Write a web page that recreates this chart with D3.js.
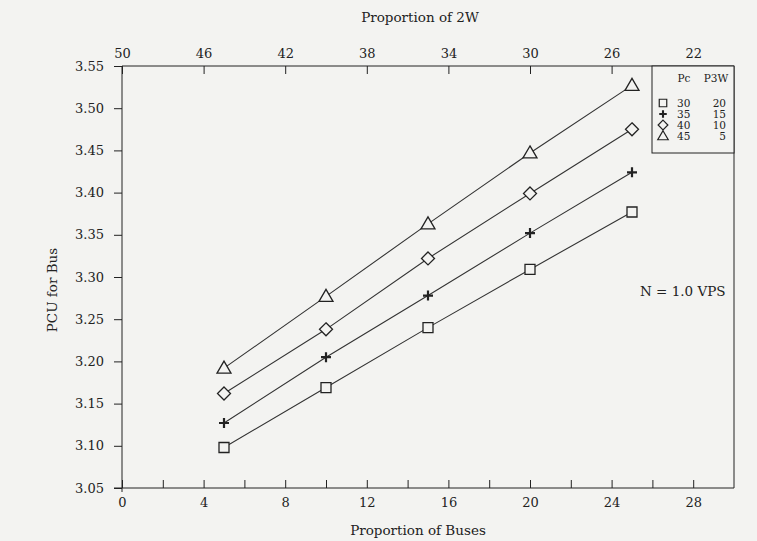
<!DOCTYPE html>
<html>
<head>
<meta charset="utf-8">
<script src="https://cdn.jsdelivr.net/npm/d3@7"></script>
<style>
body { margin: 0; background: #f3f3f1; }
svg { font-family: "DejaVu Serif", serif; }
.axis path, .axis line { stroke: #222; }
.axis text { font-size: 13px; fill: #222; font-family: "DejaVu Serif", serif; }
</style>
</head>
<body>
<svg width="757" height="541"></svg>
<script>
"use strict"

// proportion of buses (x) and PCU values
const busShare = [5, 10, 15, 20, 25]
const pcu30 = [3.098, 3.169, 3.240, 3.309, 3.377]
const pcu35 = [3.127, 3.205, 3.278, 3.352, 3.424]
const pcu40 = [3.162, 3.238, 3.322, 3.399, 3.475]
const pcu45 = [3.192, 3.277, 3.363, 3.447, 3.527]

const legendPc = [30, 35, 40, 45]
const legendP3W = [20, 15, 10, 5]
const markers = ["square", "plus", "diamond", "triangle"]

const bottomTicks = [0, 4, 8, 12, 16, 20, 24, 28]
const topTicks = [50, 46, 42, 38, 34, 30, 26, 22]
const yTicks = [3.05, 3.10, 3.15, 3.20, 3.25, 3.30, 3.35, 3.40, 3.45, 3.50, 3.55]

let svg = d3.select("svg")
let pLeft = 122, pRight = 734, pTop = 66, pBottom = 488

let x = d3.scaleLinear().domain([0, 30]).range([pLeft, pRight])
let x2w = d3.scaleLinear().domain([50, 20]).range([pLeft, pRight])
let y = d3.scaleLinear().domain([3.05, 3.55]).range([pBottom, pTop])

let series = [pcu30, pcu35, pcu40, pcu45].map((vals, i) => ({
  kind: markers[i],
  points: vals.map((v, j) => ({x: busShare[j], y: v}))
}))

// axes
svg.append("g")
  .attr("class", "axis")
  .attr("transform", `translate(0,${pBottom})`)
  .call(d3.axisBottom(x).tickValues(bottomTicks).tickSizeInner(-8).tickSizeOuter(0).tickPadding(10))
  .call(g => g.select(".domain").attr("d", `M${pLeft - 8},0H${pRight}`))

// minor ticks on the bottom axis
svg.append("g")
  .attr("class", "axis")
  .attr("transform", `translate(0,${pBottom})`)
  .call(d3.axisBottom(x).tickValues(d3.range(2, 30, 4)).tickSizeInner(-8).tickSizeOuter(0).tickFormat(""))
  .call(g => g.select(".domain").remove())

svg.append("g")
  .attr("class", "axis")
  .attr("transform", `translate(0,${pTop})`)
  .call(d3.axisTop(x2w).tickValues(topTicks).tickSizeInner(-8).tickSizeOuter(0).tickPadding(8))
  .call(g => g.select(".domain").attr("d", `M${pLeft},0H${pRight}`))

svg.append("g")
  .attr("class", "axis")
  .attr("transform", `translate(${pLeft},0)`)
  .call(d3.axisLeft(y).tickValues(yTicks).tickSizeInner(8).tickSizeOuter(0).tickPadding(10).tickFormat(d3.format(".2f")))
  .call(g => g.select(".domain").attr("d", `M0,${pTop}V${pBottom + 4}`))

// right frame
svg.append("line")
  .attr("x1", pRight).attr("x2", pRight)
  .attr("y1", pTop).attr("y2", pBottom)
  .attr("stroke", "#222")

// titles
svg.append("text").attr("x", 420).attr("y", 22).attr("text-anchor", "middle")
  .attr("font-size", 13.5).attr("fill", "#222").text("Proportion of 2W")
svg.append("text").attr("x", 418).attr("y", 535).attr("text-anchor", "middle")
  .attr("font-size", 13.5).attr("fill", "#222").text("Proportion of Buses")
svg.append("text").attr("transform", "translate(57,290) rotate(-90)").attr("text-anchor", "middle")
  .attr("font-size", 13.5).attr("fill", "#222").text("PCU for Bus")
svg.append("text").attr("x", 640).attr("y", 296)
  .attr("font-size", 13.5).attr("fill", "#222").text("N = 1.0 VPS")

// marker shapes
function markerPath(kind) {
  if (kind == "square") return "M-5,-5H5V5H-5Z"
  if (kind == "plus") return "M-5,0H5M0,-5V5"
  if (kind == "diamond") return "M0,-6.5L6.5,0L0,6.5L-6.5,0Z"
  return "M0,-7L7,5H-7Z"
}

let line = d3.line().x(d => x(d.x)).y(d => y(d.y))

svg.selectAll(".series-line")
  .data(series)
  .enter().append("path")
    .attr("class", "series-line")
    .attr("d", d => line(d.points))
    .attr("fill", "none")
    .attr("stroke", "#333")
    .attr("stroke-width", 1.1)

series.forEach(s => {
  svg.selectAll(null)
    .data(s.points)
    .enter().append("path")
      .attr("transform", d => `translate(${x(d.x)},${y(d.y)})`)
      .attr("d", markerPath(s.kind))
      .attr("fill", "#f3f3f1")
      .attr("stroke", "#222")
      .attr("stroke-width", s.kind == "plus" ? 2.2 : 1.3)
})

// legend box
let legend = svg.append("g")
legend.append("rect")
  .attr("x", 652).attr("y", pTop)
  .attr("width", pRight - 652).attr("height", 87)
  .attr("fill", "#f3f3f1").attr("stroke", "#222")
legend.append("text").attr("x", 684).attr("y", 82).attr("text-anchor", "middle")
  .attr("font-size", 10.5).attr("fill", "#222").text("Pc")
legend.append("text").attr("x", 716).attr("y", 82).attr("text-anchor", "middle")
  .attr("font-size", 10.5).attr("fill", "#222").text("P3W")

let rows = legend.selectAll(".row")
  .data(legendPc.map((pc, i) => ({pc: pc, p3w: legendP3W[i], kind: markers[i]})))
  .enter().append("g")
    .attr("class", "row")
    .attr("transform", (d, i) => `translate(0,${103 + i * 11})`)

rows.append("path")
  .attr("transform", "translate(663,0) scale(0.75)")
  .attr("d", d => markerPath(d.kind))
  .attr("fill", "none")
  .attr("stroke", "#222")
  .attr("stroke-width", d => d.kind == "plus" ? 2.8 : 1.6)
rows.append("text").attr("x", 677).attr("y", 4)
  .attr("font-size", 10.5).attr("fill", "#222").text(d => d.pc)
rows.append("text").attr("x", 726).attr("y", 4).attr("text-anchor", "end")
  .attr("font-size", 10.5).attr("fill", "#222").text(d => d.p3w)
</script>
</body>
</html>
